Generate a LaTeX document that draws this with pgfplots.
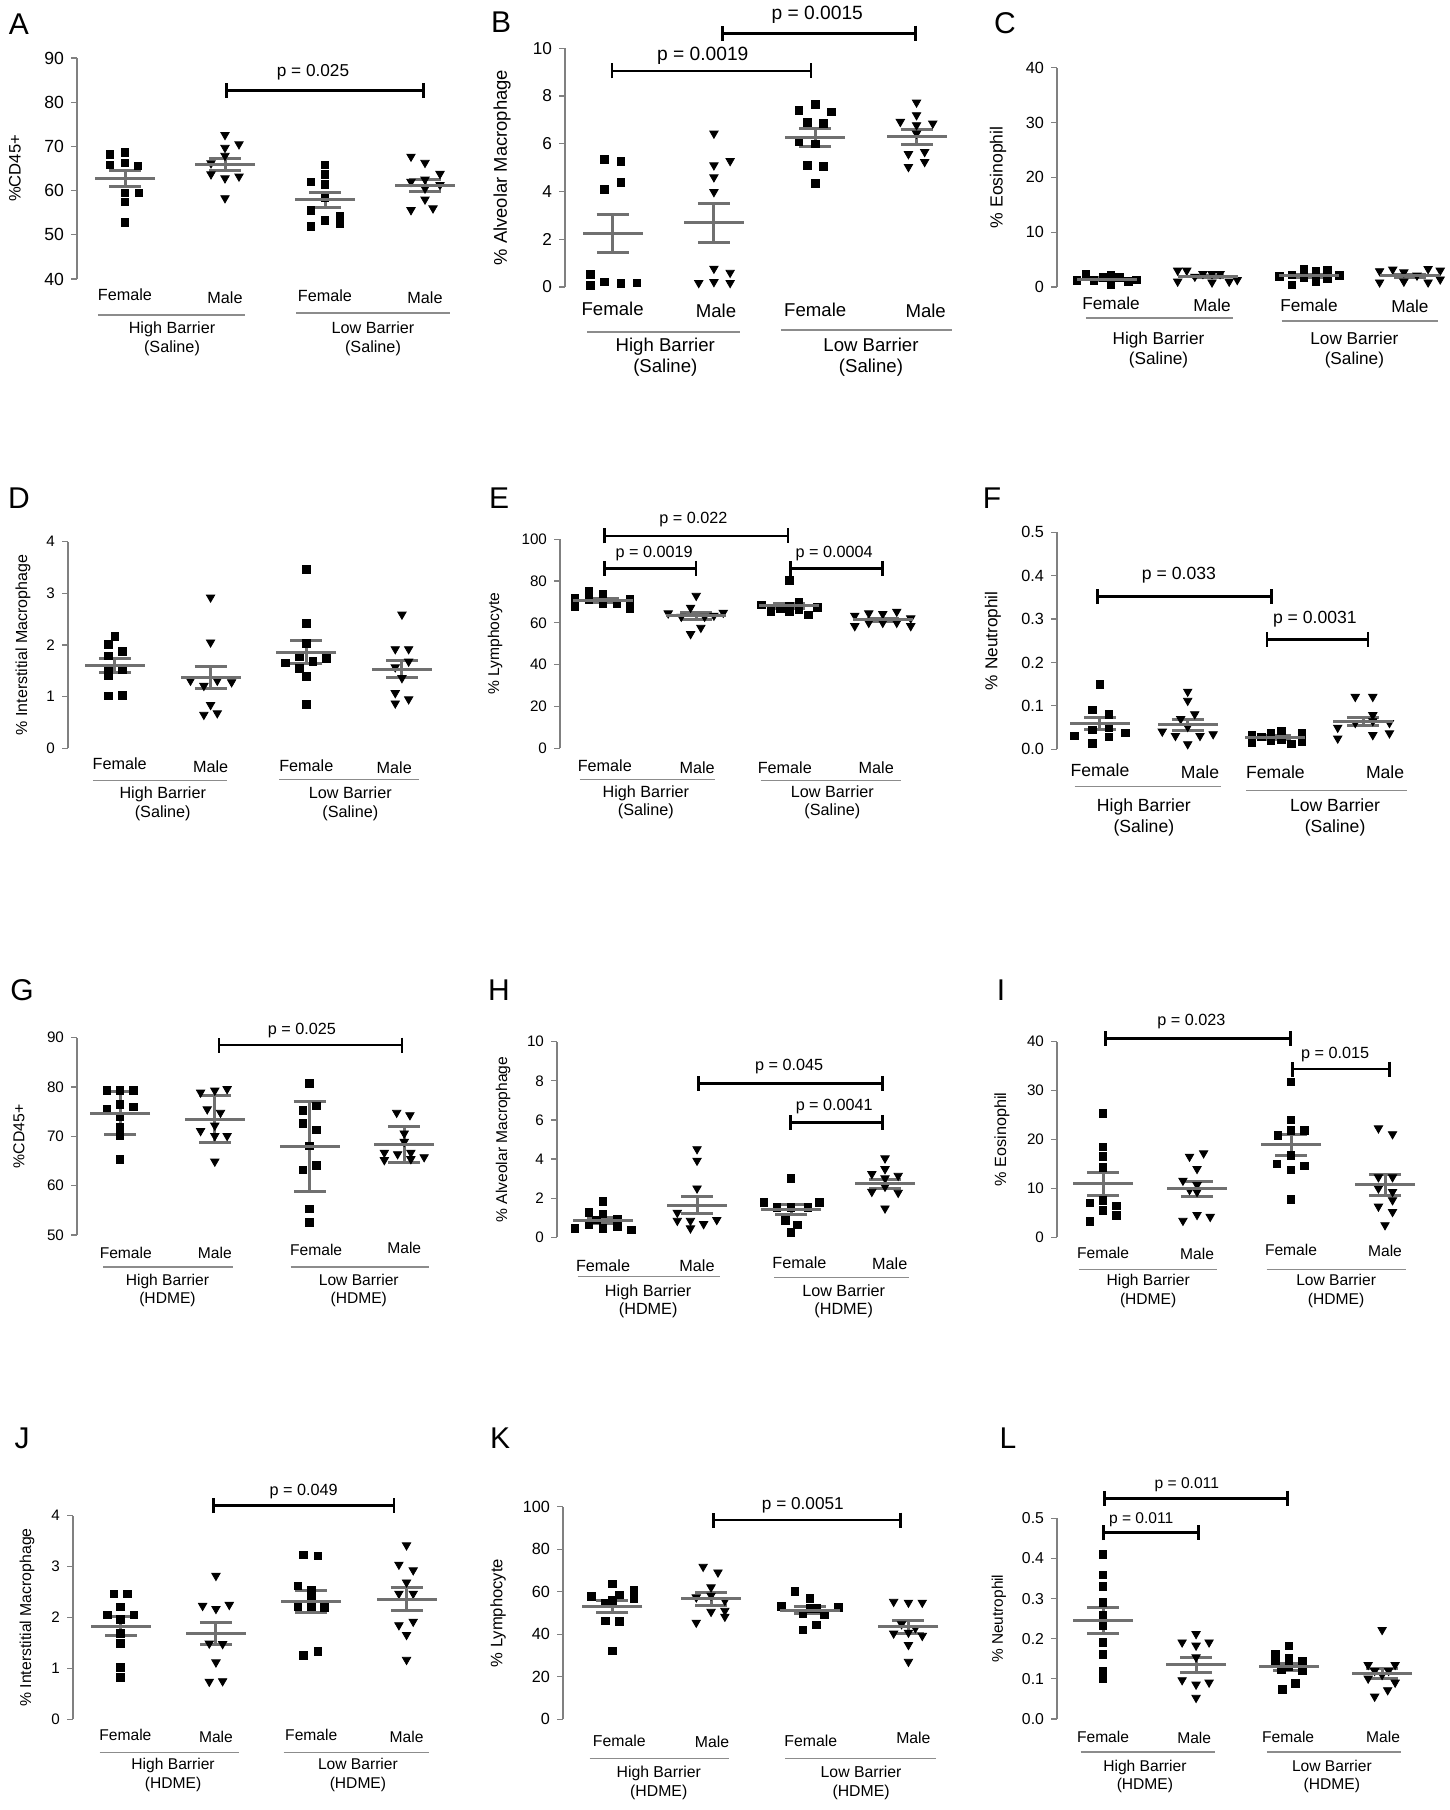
\documentclass[border=0pt]{standalone}
\usepackage{pgfplots}
\pgfplotsset{compat=1.18}
\usepackage{fontspec}
\setmainfont{Liberation Sans}
\usetikzlibrary{arrows.meta}
\definecolor{meangray}{RGB}{112,112,112}
\definecolor{axgray}{RGB}{128,128,128}
\definecolor{lngray}{RGB}{140,140,140}
\def\tkfont{\fontsize{8}{9.5}\selectfont}
\def\catfont{\fontsize{8}{9.5}\selectfont}
\def\pfont{\fontsize{8}{9.5}\selectfont}
\def\ylfont{\fontsize{8}{9.5}\selectfont}
\tikzset{
 catlab/.style={font=\catfont, inner sep=0pt},
 grplab/.style={font=\catfont, align=center, inner sep=0pt},
 grpline/.style={draw=lngray, line width=0.6pt},
 pval/.style={font=\pfont, inner sep=0pt},
 bracket/.style={draw=black, line width=1.3pt, {Bar[width=7.5pt]}-{Bar[width=7.5pt]}},
 yl/.style={font=\ylfont, rotate=90, inner sep=0pt},
 plet/.style={font=\fontsize{15}{18}\selectfont, inner sep=0pt},
}
\pgfplotsset{
 panel/.style={
  scale only axis, anchor=south west, clip=false,
  axis x line=none, axis y line*=left,
  xtick=\empty, xmax=4.5,
  y axis line style={draw=axgray, line width=0.6pt},
  ytick style={draw=axgray, line width=0.6pt},
  tick align=outside, major tick length=3pt,
  yticklabel style={font=\tkfont},
  /pgf/number format/assume math mode=true,
 },
 dec1/.style={yticklabel style={/pgf/number format/.cd, fixed, fixed zerofill, precision=1}},
 fem/.style={only marks, mark=square*, mark size=1.9pt, black, mark options={fill=black, draw=black}},
 mal/.style={only marks, mark=triangle*, mark size=2.4pt, black, mark options={fill=black, draw=black, rotate=180}},
 msem/.style={only marks, mark=-, mark size=15pt, meangray, mark options={draw=meangray, line width=1.5pt},
   error bars/.cd, y dir=both, y explicit, error mark=|,
   error bar style={draw=meangray, line width=1.5pt},
   error mark options={draw=meangray, line width=1.5pt, mark size=8pt}},
}
\newcommand{\cat}[4]{\node[catlab] at ([yshift=-#3pt]axis cs:#1,#2) {#4};}
\newcommand{\gline}[4]{\draw[grpline] ([yshift=-#4pt]axis cs:#1,#3) -- ([yshift=-#4pt]axis cs:#2,#3);}
\newcommand{\glab}[4]{\node[grplab] at ([yshift=-#3pt]axis cs:#1,#2) {#4};}
\newcommand{\pbr}[6]{\draw[bracket] (axis cs:#1,#3) -- (axis cs:#2,#3); \node[pval] at (axis cs:#4,#5) {#6};}
\newcommand{\ylab}[2]{\node[yl] at ([xshift=-#1pt]rel axis cs:0,0.5) {#2};}

\begin{document}
\begin{tikzpicture}
\path[use as bounding box] (0,0) rectangle (725pt,905pt);

% ---------------- A ----------------
\def\tkfont{\fontsize{8.8}{10}\selectfont}
\def\catfont{\fontsize{8.1}{9.5}\selectfont}
\def\pfont{\fontsize{8.6}{10}\selectfont}
\def\ylfont{\fontsize{8.3}{10}\selectfont}
\begin{axis}[panel, at={(38.5pt,765.5pt)}, width=199pt, height=110.5pt, xmin=0.52, ymin=40, ymax=90, ytick={40,50,...,90}]
\addplot[fem] coordinates {(0.85,68.2)(1,68.6)(0.85,65.8)(1,66.3)(1.13,65.6)(1.14,59.5)(1,59.5)(1,57.4)(1,52.8)(2.86,62.0)(3,65.8)(3,63.7)(3,61.4)(3,58.3)(2.86,55.5)(3,53.2)(3.15,54.1)(3.15,52.5)(2.86,51.9)};
\addplot[mal] coordinates {(2,72.6)(2.14,70.5)(2,69.7)(2,67.9)(1.86,66.2)(1.86,63.7)(2,62.8)(2.14,63.2)(2,58.3)(3.86,67.7)(4,66.3)(4.15,63.8)(3.86,62.0)(4,62.5)(4.15,61.3)(4,60.5)(4,58.0)(3.86,55.6)(4.08,56.0)};
\addplot[msem] coordinates {(1,62.7) +- (0,1.8) (2,65.9) +- (0,1.4) (3,57.9) +- (0,1.65) (4,61.1) +- (0,1.4)};
\pbr{2}{4}{82.7}{2.88}{86.8}{p = 0.025}
\cat{1}{40}{8}{Female}\cat{2}{40}{9.5}{Male}\cat{3}{40}{8.5}{Female}\cat{4}{40}{9.5}{Male}
\gline{0.73}{2.2}{40}{18}\gline{2.71}{4.25}{40}{17}
\glab{1.47}{40}{30}{High Barrier\\(Saline)}\glab{3.48}{40}{30}{Low Barrier\\(Saline)}
\ylab{31}{\%CD45+}
\end{axis}

% ---------------- B ----------------
\def\tkfont{\fontsize{8.6}{10}\selectfont}
\def\catfont{\fontsize{9.3}{10.5}\selectfont}
\def\pfont{\fontsize{9.6}{11}\selectfont}
\def\ylfont{\fontsize{9.2}{11}\selectfont}
\begin{axis}[panel, at={(282.5pt,761.5pt)}, width=201.1pt, height=119.35pt, xmin=0.53, ymin=0, ymax=10, ytick={0,2,...,10}]
\addplot[fem] coordinates {(0.92,5.35)(1.08,5.25)(1.08,4.37)(0.92,4.1)(0.78,0.53)(0.92,0.21)(1.08,0.14)(1.24,0.17)(0.78,0.07)(2.84,7.41)(3,7.66)(3.16,7.34)(2.92,6.9)(3.08,6.85)(2.84,6.08)(3,5.99)(2.92,5.1)(3.08,5.06)(3,4.34)};
\addplot[mal] coordinates {(2,6.43)(2,5.1)(2.16,5.28)(2,4.6)(2,3.98)(2,0.77)(2.16,0.6)(1.85,0.17)(2,0.21)(2.16,0.17)(4,7.73)(3.84,6.92)(4,7.2)(4.16,6.85)(4,6.78)(4,6.43)(3.92,5.57)(4.08,5.66)(3.92,5.03)(4.08,5.24)};
\addplot[msem] coordinates {(1,2.24) +- (0,0.81) (2,2.69) +- (0,0.82) (3,6.27) +- (0,0.37) (4,6.29) +- (0,0.31)};
\pbr{0.98}{2.97}{9.05}{1.89}{9.68}{p = 0.0019}
\pbr{2.07}{4.0}{10.63}{3.02}{11.4}{p = 0.0015}
\cat{1}{0}{11}{Female}\cat{2.02}{0}{12}{Male}\cat{3}{0}{11.5}{Female}\cat{4.09}{0}{12}{Male}
\gline{0.75}{2.26}{0}{22.5}\gline{2.66}{4.35}{0}{21.5}
\glab{1.52}{0}{35}{High Barrier\\(Saline)}\glab{3.55}{0}{35}{Low Barrier\\(Saline)}
\ylab{31.5}{\% Alveolar Macrophage}
\end{axis}

% ---------------- C ----------------
\def\tkfont{\fontsize{8.1}{9.5}\selectfont}
\def\catfont{\fontsize{8.6}{10}\selectfont}
\def\ylfont{\fontsize{8.8}{10}\selectfont}
\begin{axis}[panel, at={(528.5pt,761.5pt)}, width=201.7pt, height=109.65pt, xmin=0.505, ymin=0, ymax=40, ytick={0,10,...,40}]
\addplot[fem] coordinates {(0.70,1.15)(0.79,2.25)(0.87,1.15)(0.96,1.8)(1.04,2.1)(1.04,0.4)(1.12,1.8)(1.21,1.0)(1.29,1.3)(2.71,1.9)(2.83,2.2)(2.83,0.4)(2.95,3.3)(2.95,1.8)(3.07,2.8)(3.07,1.0)(3.18,3.0)(3.18,1.6)(3.30,2.1)};
\addplot[mal] coordinates {(1.70,3.0)(1.79,3.0)(1.70,1.0)(1.87,1.9)(1.95,2.4)(2.04,2.4)(2.12,2.4)(2.04,0.85)(2.21,1.0)(2.29,1.3)(3.70,2.9)(3.70,0.85)(3.83,3.2)(3.94,2.7)(3.94,1.0)(4.07,2.1)(4.18,3.3)(4.18,0.85)(4.30,3.0)(4.30,1.4)};
\addplot[msem] coordinates {(1,1.45) +- (0,0.2) (2,1.9) +- (0,0.25) (3,2.06) +- (0,0.3) (4,2.06) +- (0,0.3)};
\cat{1.04}{0}{8}{Female}\cat{2.04}{0}{9}{Male}\cat{3}{0}{9}{Female}\cat{4}{0}{9.5}{Male}
\gline{0.79}{2.25}{0}{15.5}\gline{2.73}{4.28}{0}{17}
\glab{1.51}{0}{31.5}{High Barrier\\(Saline)}\glab{3.45}{0}{31.5}{Low Barrier\\(Saline)}
\ylab{29.5}{\% Eosinophil}
\end{axis}

% ---------------- D ----------------
\def\tkfont{\fontsize{7.6}{9}\selectfont}
\def\catfont{\fontsize{8.1}{9.5}\selectfont}
\def\ylfont{\fontsize{8}{9.5}\selectfont}
\begin{axis}[panel, at={(34pt,530.85pt)}, width=190.9pt, height=103.35pt, xmin=0.51, ymin=0, ymax=4, ytick={0,1,...,4}]
\addplot[fem] coordinates {(1,2.17)(0.93,2.01)(1.08,1.88)(0.93,1.79)(0.93,1.53)(1.08,1.53)(0.93,1.40)(0.93,1.01)(1.08,1.02)(3,3.46)(3,2.42)(3,2.03)(2.78,1.65)(2.93,1.77)(3.07,1.68)(3.21,1.74)(2.93,1.55)(3,1.39)(3,0.85)};
\addplot[mal] coordinates {(2,2.92)(2,2.05)(1.79,1.31)(1.93,1.21)(2.07,1.31)(2.22,1.28)(2,0.84)(1.93,0.65)(2.07,0.68)(4,2.59)(3.93,1.92)(4.07,1.92)(3.93,1.57)(4.07,1.68)(4,1.36)(3.93,1.07)(3.93,0.87)(4.07,0.95)};
\addplot[msem] coordinates {(1,1.60) +- (0,0.135) (2,1.37) +- (0,0.22) (3,1.86) +- (0,0.225) (4,1.53) +- (0,0.165)};
\cat{1.05}{0}{7.5}{Female}\cat{2}{0}{9}{Male}\cat{3}{0}{8.5}{Female}\cat{3.92}{0}{9.5}{Male}
\gline{0.77}{2.17}{0}{16}\gline{2.72}{4.18}{0}{15.5}
\glab{1.5}{0}{28}{High Barrier\\(Saline)}\glab{3.46}{0}{28}{Low Barrier\\(Saline)}
\ylab{22.5}{\% Interstitial Macrophage}
\end{axis}

% ---------------- E ----------------
\def\tkfont{\fontsize{7.6}{9}\selectfont}
\def\catfont{\fontsize{8.1}{9}\selectfont}
\def\pfont{\fontsize{8.1}{9.5}\selectfont}
\def\ylfont{\fontsize{7.8}{9.5}\selectfont}
\begin{axis}[panel, at={(280pt,530.85pt)}, width=184.7pt, height=104.5pt, xmin=0.54, ymin=0, ymax=100, ytick={0,20,...,100}]
\addplot[fem] coordinates {(0.70,71.8)(0.70,67.8)(0.85,75.0)(0.85,71.0)(1,73.8)(1,69.1)(1.15,69.4)(1.29,71.3)(1.29,67.0)(3,80.2)(2.70,68.6)(2.80,65.4)(2.90,67.0)(3,65.4)(3.10,69.7)(3.10,66.5)(3.20,63.8)(3.30,67.3)(3,68.0)};
\addplot[mal] coordinates {(2,73.0)(1.94,67.3)(1.70,64.6)(2.29,64.9)(2.09,63.0)(1.84,63.0)(2.05,57.7)(1.94,54.7)(2.19,63.5)(3.70,63.5)(3.70,58.5)(3.85,64.6)(3.85,60.1)(4,64.3)(4,60.1)(4.15,65.4)(4.15,60.1)(4.30,62.2)(4.30,58.5)};
\addplot[msem] coordinates {(1,70.7) +- (0,0.8) (2,63.3) +- (0,1.5) (3,68.1) +- (0,1.3) (4,61.4) +- (0,0.8)};
\pbr{1}{3}{101.6}{1.97}{109.3}{p = 0.022}
\pbr{1}{2.01}{86.1}{1.55}{93.3}{p = 0.0019}
\pbr{3}{4.01}{86.1}{3.48}{93.3}{p = 0.0004}
\cat{1.02}{0}{8.5}{Female}\cat{2.01}{0}{9.5}{Male}\cat{2.95}{0}{9.5}{Female}\cat{3.93}{0}{9.75}{Male}
\gline{0.75}{2.2}{0}{15.5}\gline{2.69}{4.2}{0}{16}
\glab{1.46}{0}{27}{High Barrier\\(Saline)}\glab{3.46}{0}{27}{Low Barrier\\(Saline)}
\ylab{32.5}{\% Lymphocyte}
\end{axis}

% ---------------- F ----------------
\def\tkfont{\fontsize{8.1}{9.5}\selectfont}
\def\catfont{\fontsize{8.8}{10.5}\selectfont}
\def\pfont{\fontsize{8.8}{10}\selectfont}
\def\ylfont{\fontsize{8.6}{10}\selectfont}
\begin{axis}[panel, dec1, at={(528.5pt,530.35pt)}, width=175pt, height=108.5pt, xmin=0.51, ymin=0, ymax=0.5, ytick={0,0.1,0.2,0.3,0.4,0.5}]
\addplot[fem] coordinates {(1,0.150)(0.91,0.091)(1.10,0.081)(0.71,0.031)(0.91,0.045)(1.10,0.051)(1.10,0.029)(1.29,0.038)(0.91,0.014)(2.73,0.033)(2.73,0.015)(2.84,0.029)(2.95,0.038)(2.95,0.02)(3.07,0.042)(3.07,0.022)(3.18,0.012)(3.30,0.037)(3.30,0.018)};
\addplot[mal] coordinates {(2,0.133)(2,0.112)(2.08,0.081)(1.71,0.041)(1.86,0.031)(2,0.052)(2.14,0.031)(2.29,0.035)(2,0.012)(1.92,0.07)(3.91,0.121)(4.11,0.121)(4.11,0.079)(3.71,0.05)(3.71,0.025)(3.91,0.061)(4.11,0.033)(4.30,0.037)(4.30,0.061)(4.11,0.065)};
\addplot[msem] coordinates {(1,0.060) +- (0,0.014) (2,0.056) +- (0,0.013) (3,0.027) +- (0,0.004) (4,0.064) +- (0,0.01)};
\pbr{0.96}{2.97}{0.352}{1.90}{0.402}{p = 0.033}
\pbr{2.89}{4.07}{0.253}{3.45}{0.30}{p = 0.0031}
\cat{1}{0}{10.5}{Female}\cat{2.14}{0}{11.5}{Male}\cat{3}{0}{11.5}{Female}\cat{4.25}{0}{11.5}{Male}
\gline{0.71}{2.38}{0}{18.5}\gline{2.67}{4.5}{0}{20.5}
\glab{1.5}{0}{34}{High Barrier\\(Saline)}\glab{3.68}{0}{34}{Low Barrier\\(Saline)}
\ylab{32}{\% Neutrophil}
\end{axis}

% ---------------- G ----------------
\def\tkfont{\fontsize{7.6}{9}\selectfont}
\def\catfont{\fontsize{7.8}{9}\selectfont}
\def\pfont{\fontsize{8.1}{9.5}\selectfont}
\def\ylfont{\fontsize{7.9}{9.5}\selectfont}
\begin{axis}[panel, at={(38.5pt,287.5pt)}, width=187.3pt, height=98.65pt, xmin=0.545, ymin=50, ymax=90, ytick={50,60,...,90}]
\addplot[fem] coordinates {(0.86,79.3)(1,79.3)(1.14,79.3)(0.86,75.5)(1,76.5)(1.14,76.0)(1,74.0)(1,71.8)(1,70.1)(1,65.3)(3,80.7)(2.93,75.3)(3.07,76.2)(2.93,72.6)(3.07,71.3)(3,68.1)(2.93,63.2)(3.07,64.1)(3,55.3)(3,52.5)};
\addplot[mal] coordinates {(1.85,78.9)(2,79.3)(2.13,79.6)(1.92,75.5)(2.06,74.8)(2,72.2)(1.85,71.1)(2.13,70.1)(2,70.1)(2,64.9)(3.92,74.8)(4.06,74.3)(4,70.6)(3.79,66.7)(3.93,66.4)(4.07,66.7)(4.21,65.8)(3.79,65.2)(4.07,65.4)(4,68.9)};
\addplot[msem] coordinates {(1,74.7) +- (0,4.3) (2,73.5) +- (0,4.8) (3,68.0) +- (0,9.15) (4,68.4) +- (0,3.65)};
\pbr{2.03}{3.99}{88.5}{2.92}{91.5}{p = 0.025}
\cat{1.06}{50}{9}{Female}\cat{2}{50}{9}{Male}\cat{3.07}{50}{7.5}{Female}\cat{4}{50}{6.5}{Male}
\gline{0.82}{2.19}{50}{16}\gline{2.8}{4.26}{50}{16}
\glab{1.5}{50}{27.5}{High Barrier\\(HDME)}\glab{3.52}{50}{27.5}{Low Barrier\\(HDME)}
\ylab{29}{\%CD45+}
\end{axis}

% ---------------- H ----------------
\def\tkfont{\fontsize{7.6}{9}\selectfont}
\def\catfont{\fontsize{8.1}{9}\selectfont}
\def\pfont{\fontsize{8.1}{9.5}\selectfont}
\def\ylfont{\fontsize{7.8}{9.5}\selectfont}
\begin{axis}[panel, at={(278.5pt,286.35pt)}, width=187.5pt, height=97.8pt, xmin=0.51, ymin=0, ymax=10, ytick={0,2,...,10}]
\addplot[fem] coordinates {(1,1.82)(0.85,1.26)(1,1.19)(0.70,0.46)(0.85,0.63)(1,0.46)(1.15,0.55)(1.15,0.92)(1.30,0.37)(0.93,0.89)(3,3.02)(2.71,1.79)(3.30,1.79)(2.85,1.53)(3,1.53)(3.18,1.53)(2.94,0.85)(3.07,0.63)(3,0.24)};
\addplot[mal] coordinates {(2,4.51)(2,3.92)(2,2.50)(1.79,1.26)(1.79,0.85)(1.93,0.85)(2.07,0.68)(2.21,0.89)(1.93,0.46)(4,4.04)(4,3.49)(3.86,3.24)(4.14,3.15)(4,3.02)(3.86,2.33)(4,2.59)(4.14,2.28)(4,1.48)};
\addplot[msem] coordinates {(1,0.85) +- (0,0.17) (2,1.65) +- (0,0.45) (3,1.43) +- (0,0.24) (4,2.73) +- (0,0.24)};
\pbr{2.0}{3.99}{7.87}{2.98}{8.72}{p = 0.045}
\pbr{2.98}{3.99}{5.88}{3.46}{6.71}{p = 0.0041}
\cat{1}{0}{14}{Female}\cat{2}{0}{14}{Male}\cat{3.09}{0}{12.5}{Female}\cat{4.05}{0}{13}{Male}
\gline{0.73}{2.24}{0}{19.5}\gline{2.82}{4.26}{0}{20}
\glab{1.48}{0}{32}{High Barrier\\(HDME)}\glab{3.56}{0}{32}{Low Barrier\\(HDME)}
\ylab{27}{\% Alveolar Macrophage}
\end{axis}

% ---------------- I ----------------
\def\tkfont{\fontsize{7.6}{9}\selectfont}
\def\catfont{\fontsize{7.8}{9.5}\selectfont}
\def\pfont{\fontsize{8.1}{9.5}\selectfont}
\def\ylfont{\fontsize{8.1}{9.5}\selectfont}
\begin{axis}[panel, at={(528.5pt,286.35pt)}, width=187.5pt, height=97.8pt, xmin=0.51, ymin=0, ymax=40, ytick={0,10,...,40}]
\addplot[fem] coordinates {(1,25.3)(1,18.5)(1,16.6)(1,14.3)(0.86,7.0)(1,7.6)(1.14,6.4)(1,5.5)(1.14,4.5)(0.86,3.2)(3,31.8)(3,24.0)(3,21.8)(3.14,21.9)(2.86,20.8)(3,16.8)(2.85,15.0)(3.14,14.6)(3,13.8)(3,7.8)};
\addplot[mal] coordinates {(1.92,16.5)(2.07,17.2)(2,14.0)(1.85,11.6)(2,10.7)(1.92,9.7)(2,9.3)(1.85,3.4)(2,4.6)(2.14,4.2)(3.93,22.3)(4.08,21.1)(3.93,12.3)(4.08,12.3)(3.93,10.0)(4.08,9.3)(3.93,6.3)(4.08,7.6)(4.08,5.2)(4,2.5)};
\addplot[msem] coordinates {(1,10.9) +- (0,2.3) (2,9.9) +- (0,1.6) (3,18.9) +- (0,2.1) (4,10.7) +- (0,2.1)};
\pbr{1.01}{3.01}{40.7}{1.94}{44.1}{p = 0.023}
\pbr{3.0}{4.06}{34.4}{3.47}{37.3}{p = 0.015}
\cat{1}{0}{8}{Female}\cat{2}{0}{8.5}{Male}\cat{3}{0}{6.5}{Female}\cat{4}{0}{7}{Male}
\gline{0.74}{2.21}{0}{16}\gline{2.74}{4.22}{0}{16}
\glab{1.48}{0}{27}{High Barrier\\(HDME)}\glab{3.48}{0}{27}{Low Barrier\\(HDME)}
\ylab{27.5}{\% Eosinophil}
\end{axis}

% ---------------- J ----------------
\def\tkfont{\fontsize{7.6}{9}\selectfont}
\def\catfont{\fontsize{7.8}{9.5}\selectfont}
\def\pfont{\fontsize{8.1}{9.5}\selectfont}
\def\ylfont{\fontsize{7.9}{9.5}\selectfont}
\begin{axis}[panel, at={(36.5pt,45.35pt)}, width=190.6pt, height=101.8pt, xmin=0.5, ymin=0, ymax=4, ytick={0,1,...,4}]
\addplot[fem] coordinates {(0.93,2.46)(1.07,2.46)(1,2.21)(0.86,2.05)(1.14,2.05)(1,1.96)(1,1.69)(1,1.49)(1,1.02)(1,0.82)(2.92,3.23)(3.07,3.21)(2.86,2.62)(3,2.53)(2.86,2.21)(3,2.21)(3.14,2.20)(3,2.36)(2.92,1.26)(3.07,1.33)};
\addplot[mal] coordinates {(2,2.82)(1.86,2.23)(2,2.17)(2.14,2.25)(1.93,1.49)(2.07,1.48)(2,1.12)(1.93,0.74)(2.07,0.75)(4,3.42)(3.92,3.04)(4.07,2.93)(4,2.69)(3.92,2.47)(4.07,2.47)(3.92,1.85)(4.07,1.92)(4,1.66)(4,1.17)};
\addplot[msem] coordinates {(1,1.83) +- (0,0.18) (2,1.68) +- (0,0.22) (3,2.31) +- (0,0.22) (4,2.36) +- (0,0.22)};
\pbr{1.96}{3.88}{4.20}{2.92}{4.47}{p = 0.049}
\cat{1.05}{0}{8}{Female}\cat{2}{0}{9}{Male}\cat{3}{0}{8}{Female}\cat{4}{0}{9}{Male}
\gline{0.78}{2.24}{0}{16.5}\gline{2.71}{4.24}{0}{16.5}
\glab{1.55}{0}{28}{High Barrier\\(HDME)}\glab{3.49}{0}{28}{Low Barrier\\(HDME)}
\ylab{23}{\% Interstitial Macrophage}
\end{axis}

% ---------------- K ----------------
\def\tkfont{\fontsize{8.1}{9.5}\selectfont}
\def\catfont{\fontsize{7.9}{9.5}\selectfont}
\def\pfont{\fontsize{8.6}{10}\selectfont}
\def\ylfont{\fontsize{8.3}{10}\selectfont}
\begin{axis}[panel, at={(281.5pt,45.35pt)}, width=197.4pt, height=106.3pt, xmin=0.5, ymin=0, ymax=100, ytick={0,20,...,100}]
\addplot[fem] coordinates {(1,63.6)(0.79,57.7)(0.93,54.5)(1.07,58.5)(1.22,60.5)(1.22,56.9)(1,56.0)(0.93,46.3)(1.07,46.0)(1,32.1)(2.85,60.3)(3,56.9)(2.71,53.0)(2.93,49.5)(3.07,52.2)(3.15,49.1)(3.29,52.7)(3,52.2)(2.93,42.0)(3.07,44.4)};
\addplot[mal] coordinates {(1.92,71.8)(2.07,69.1)(2,62.1)(1.85,57.4)(2,58.2)(2.14,55.8)(2,50.6)(2.14,51.1)(2.14,48.3)(1.85,45.5)(3.85,55.3)(4,54.9)(4.14,54.9)(3.85,40.4)(4,40.8)(4.14,39.3)(3.93,44.8)(4,35.0)(4,27.1)(4.07,42.9)};
\addplot[msem] coordinates {(1,53.0) +- (0,2.95) (2,56.6) +- (0,2.9) (3,51.4) +- (0,1.6) (4,43.6) +- (0,3.1)};
\pbr{2.01}{3.93}{93.7}{2.93}{100.8}{p = 0.0051}
\cat{1.07}{0}{11}{Female}\cat{2.01}{0}{11.5}{Male}\cat{3.01}{0}{11}{Female}\cat{4.05}{0}{9.5}{Male}
\gline{0.77}{2.18}{0}{19.5}\gline{2.75}{4.28}{0}{19.5}
\glab{1.47}{0}{32}{High Barrier\\(HDME)}\glab{3.52}{0}{32}{Low Barrier\\(HDME)}
\ylab{32.5}{\% Lymphocyte}
\end{axis}

% ---------------- L ----------------
\def\tkfont{\fontsize{7.9}{9.5}\selectfont}
\def\catfont{\fontsize{7.8}{9}\selectfont}
\def\pfont{\fontsize{7.8}{9.5}\selectfont}
\def\ylfont{\fontsize{7.7}{9.5}\selectfont}
\begin{axis}[panel, dec1, at={(528.5pt,45.5pt)}, width=185.8pt, height=100.35pt, xmin=0.505, ymin=0, ymax=0.5, ytick={0,0.1,0.2,0.3,0.4,0.5}]
\addplot[fem] coordinates {(1,0.410)(1,0.359)(1,0.330)(1,0.290)(1,0.259)(1,0.232)(1,0.191)(1,0.161)(1,0.120)(1,0.100)(2.85,0.162)(3,0.182)(3,0.151)(3.14,0.143)(2.85,0.143)(2.92,0.122)(3.14,0.120)(3.07,0.089)(2.93,0.074)(3,0.13)};
\addplot[mal] coordinates {(2,0.212)(1.85,0.191)(2,0.183)(2.14,0.191)(2,0.154)(1.85,0.097)(2,0.086)(2.14,0.091)(2,0.053)(4,0.222)(3.85,0.135)(4.14,0.135)(3.92,0.120)(4.07,0.120)(3.85,0.101)(4.14,0.091)(4.06,0.072)(3.92,0.056)(4,0.110)};
\addplot[msem] coordinates {(1,0.245) +- (0,0.033) (2,0.135) +- (0,0.018) (3,0.130) +- (0,0.008) (4,0.114) +- (0,0.013)};
\pbr{0.99}{2.04}{0.464}{1.41}{0.497}{p = 0.011}
\pbr{1.0}{3.0}{0.550}{1.90}{0.583}{p = 0.011}
\cat{1}{0}{9}{Female}\cat{1.98}{0}{9.5}{Male}\cat{2.99}{0}{9}{Female}\cat{4.01}{0}{9}{Male}
\gline{0.76}{2.2}{0}{16.5}\gline{2.76}{4.2}{0}{16.5}
\glab{1.45}{0}{28.5}{High Barrier\\(HDME)}\glab{3.46}{0}{28.5}{Low Barrier\\(HDME)}
\ylab{29}{\% Neutrophil}
\end{axis}

% panel letters
\node[plet] at (9.5pt,893pt) {A};
\node[plet] at (250.5pt,894pt) {B};
\node[plet] at (502.5pt,893.5pt) {C};
\node[plet] at (9.5pt,656pt) {D};
\node[plet] at (249.5pt,656pt) {E};
\node[plet] at (496pt,656pt) {F};
\node[plet] at (11pt,410pt) {G};
\node[plet] at (249.5pt,410pt) {H};
\node[plet] at (500.5pt,410pt) {I};
\node[plet] at (11pt,186pt) {J};
\node[plet] at (250pt,186pt) {K};
\node[plet] at (504pt,186pt) {L};
\end{tikzpicture}
\end{document}
